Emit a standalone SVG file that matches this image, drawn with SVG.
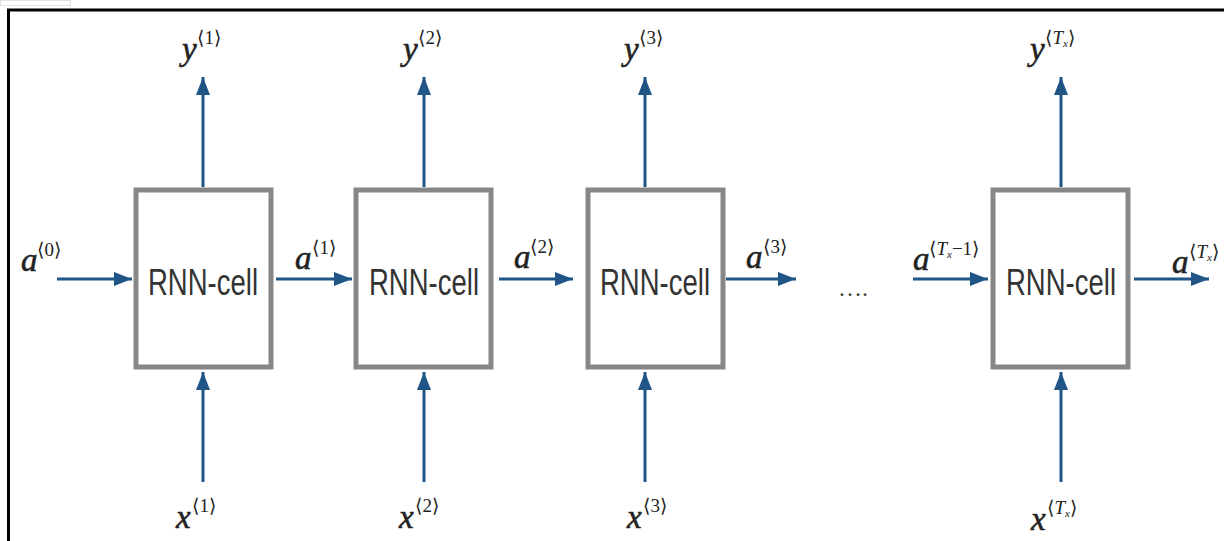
<svg xmlns="http://www.w3.org/2000/svg" width="1224" height="541" viewBox="0 0 1224 541">
<style>
.cell{fill:#ffffff;stroke:#878787;stroke-width:5}
.ct{font-family:"Liberation Sans",Arial,sans-serif;font-size:37px;fill:#333333}
.ln{stroke:#1f5687;stroke-width:3;fill:none}
.m{font-family:"Liberation Serif","Times New Roman",serif;font-style:italic;font-size:33px;fill:#222222;stroke:#222222;stroke-width:0.6}
.s{font-family:"Liberation Serif","DejaVu Serif",serif;font-size:19px;fill:#222222}
.sub{font-size:11px}
</style>
<defs>
<marker id="ah" markerUnits="userSpaceOnUse" markerWidth="20" markerHeight="16" refX="18" refY="7" orient="auto">
<path d="M0,0 L18,7 L0,14 Z" fill="#1f5687"/>
</marker>
</defs>
<rect x="0.5" y="0.5" width="70" height="5" fill="#ffffff" stroke="#e2e2e2"/>
<path d="M8.5,541 L8.5,10 L1224,10" fill="none" stroke="#000000" stroke-width="3"/>
<g id="connectors">
<line class="ln" x1="203" y1="187" x2="203" y2="77" marker-end="url(#ah)"/>
<line class="ln" x1="424" y1="187" x2="424" y2="77" marker-end="url(#ah)"/>
<line class="ln" x1="645" y1="187" x2="645" y2="77" marker-end="url(#ah)"/>
<line class="ln" x1="1061" y1="187" x2="1061" y2="77" marker-end="url(#ah)"/>
<line class="ln" x1="203" y1="482" x2="203" y2="372" marker-end="url(#ah)"/>
<line class="ln" x1="424" y1="482" x2="424" y2="372" marker-end="url(#ah)"/>
<line class="ln" x1="645" y1="482" x2="645" y2="372" marker-end="url(#ah)"/>
<line class="ln" x1="1061" y1="482" x2="1061" y2="372" marker-end="url(#ah)"/>
<line class="ln" x1="57" y1="279" x2="132" y2="279" marker-end="url(#ah)"/>
<line class="ln" x1="276" y1="279" x2="352" y2="279" marker-end="url(#ah)"/>
<line class="ln" x1="499" y1="279" x2="573" y2="279" marker-end="url(#ah)"/>
<line class="ln" x1="726" y1="279" x2="796" y2="279" marker-end="url(#ah)"/>
<line class="ln" x1="913" y1="279" x2="988" y2="279" marker-end="url(#ah)"/>
<line class="ln" x1="1134" y1="279" x2="1209" y2="279" marker-end="url(#ah)"/>
</g>
<g id="cell1"><rect class="cell" x="136" y="190" width="135" height="177"/><text class="ct" x="203" y="295" text-anchor="middle" textLength="110" lengthAdjust="spacingAndGlyphs">RNN-cell</text></g>
<g id="cell2"><rect class="cell" x="356" y="190" width="135" height="177"/><text class="ct" x="424" y="295" text-anchor="middle" textLength="110" lengthAdjust="spacingAndGlyphs">RNN-cell</text></g>
<g id="cell3"><rect class="cell" x="588" y="190" width="135" height="177"/><text class="ct" x="655" y="295" text-anchor="middle" textLength="110" lengthAdjust="spacingAndGlyphs">RNN-cell</text></g>
<g id="cell4"><rect class="cell" x="993" y="190" width="135" height="177"/><text class="ct" x="1061" y="295" text-anchor="middle" textLength="110" lengthAdjust="spacingAndGlyphs">RNN-cell</text></g>
<g id="labels-y">
<text class="m" x="182" y="60">y</text><text class="s" x="197" y="44">⟨1⟩</text>
<text class="m" x="403" y="60">y</text><text class="s" x="418" y="44">⟨2⟩</text>
<text class="m" x="624" y="60">y</text><text class="s" x="639" y="44">⟨3⟩</text>
<text class="m" x="1030" y="60">y</text><text class="s" x="1045" y="44">⟨<tspan font-style="italic">T</tspan><tspan class="sub" font-style="italic" dy="3">x</tspan><tspan dy="-3">⟩</tspan></text>
</g>
<g id="labels-x">
<text class="m" x="176" y="528">x</text><text class="s" x="192" y="512">⟨1⟩</text>
<text class="m" x="399" y="528">x</text><text class="s" x="415" y="512">⟨2⟩</text>
<text class="m" x="627" y="528">x</text><text class="s" x="643" y="512">⟨3⟩</text>
<text class="m" x="1031" y="530">x</text><text class="s" x="1047" y="514">⟨<tspan font-style="italic">T</tspan><tspan class="sub" font-style="italic" dy="3">x</tspan><tspan dy="-3">⟩</tspan></text>
</g>
<g id="labels-a">
<text class="m" x="21" y="271">a</text><text class="s" x="37" y="256">⟨0⟩</text>
<text class="m" x="295" y="269">a</text><text class="s" x="312" y="254">⟨1⟩</text>
<text class="m" x="514" y="268">a</text><text class="s" x="530" y="253">⟨2⟩</text>
<text class="m" x="746" y="268">a</text><text class="s" x="763" y="253">⟨3⟩</text>
<text class="m" x="913" y="270">a</text><text class="s" x="929" y="255">⟨<tspan font-style="italic">T</tspan><tspan class="sub" font-style="italic" dy="3">x</tspan><tspan dy="-3">−1⟩</tspan></text>
<text class="m" x="1172" y="273">a</text><text class="s" x="1189" y="258">⟨<tspan font-style="italic">T</tspan><tspan class="sub" font-style="italic" dy="3">x</tspan><tspan dy="-3">⟩</tspan></text>
</g>
<text x="838" y="296" font-family="Liberation Serif,serif" font-size="24" fill="#333333">….</text>
</svg>
